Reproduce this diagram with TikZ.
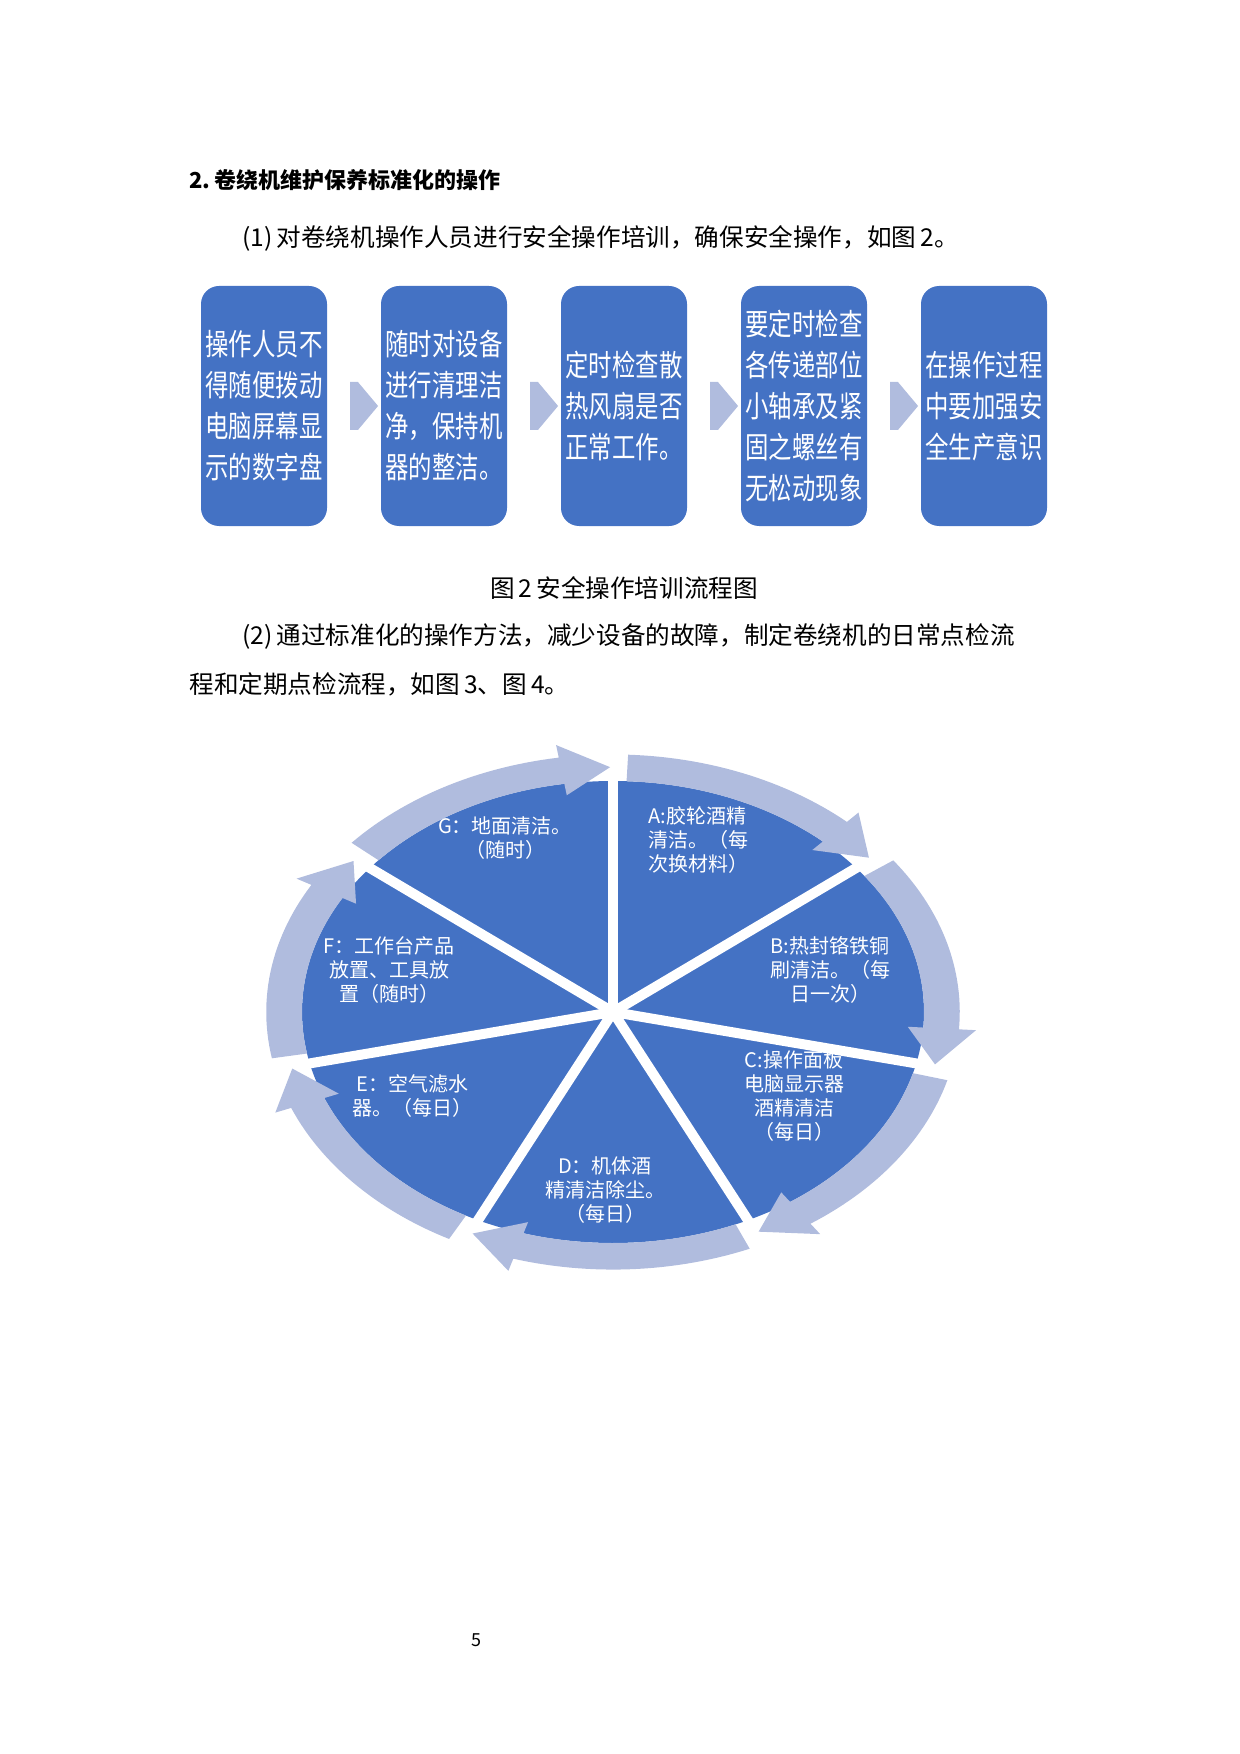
\documentclass[tikz,border=0pt]{standalone}
\usepackage{fontspec}
\setmainfont{Noto Sans CJK SC}
\usetikzlibrary{shapes.arrows,calc}
\definecolor{pieblue}{RGB}{68,114,196}
\definecolor{ringblue}{RGB}{176,188,222}
\tikzset{
  box/.style={fill=pieblue, rounded corners=9pt, minimum width=63pt, minimum height=120pt, inner sep=0pt},
  boxtxt/.style={text=white, align=center, font=\fontsize{15}{20.5}\selectfont, xscale=0.78, transform shape},
  chev/.style={single arrow, fill=ringblue, draw=none, minimum width=24pt, minimum height=14pt, single arrow head extend=0pt, inner sep=0pt, single arrow tip angle=100},
  pie/.style={text=white, font=\fontsize{10}{12}\selectfont, inner sep=0pt},
  body/.style={anchor=west, font=\fontsize{12.3}{14}\selectfont, inner sep=0pt}
}
\begin{document}
\begin{tikzpicture}[x=0.5pt,y=-0.5pt]
\useasboundingbox (0,0) rectangle (1240,1754);
\node[anchor=west, font=\fontsize{11}{13}\selectfont\bfseries, inner sep=0pt] (head) at (189,180) {2.\,卷绕机维护保养标准化的操作};
\node[body] (p1) at (242,238) {(1)\,对卷绕机操作人员进行安全操作培训，确保安全操作，如图\,2。};
\foreach \i/\x/\t in {1/264/操作人员不\\得随便拨动\\电脑屏幕显\\示的数字盘, 2/444/随时对设备\\进行清理洁\\净，保持机\\器的整洁。, 3/624/定时检查散\\热风扇是否\\正常工作。, 4/804/要定时检查\\各传递部位\\小轴承及紧\\固之螺丝有\\无松动现象, 5/984/在操作过程\\中要加强安\\全生产意识}{
  \node[box] (b\i) at (\x,406) {};
  \node[boxtxt] (t\i) at (b\i) {\t};
}
\foreach \a/\b in {1/2,2/3,3/4,4/5}{
  \node[chev] (c\a) at ($(b\a.east)!0.5!(b\b.west)$) {};
}
\node[font=\fontsize{12.3}{14}\selectfont, inner sep=0pt] (cap) at (624,588) {图\,2\,安全操作培训流程图};
\node[body] (p2) at (242,636) {(2)\,通过标准化的操作方法，减少设备的故障，制定卷绕机的日常点检流};
\node[body] (p3) at (189,684) {程和定期点检流程，如图\,3、图\,4。};
% pie
\begin{scope}[shift={(613,1012)}, x={(155.5pt,0pt)}, y={(0pt,115.5pt)}]
  \coordinate (ctr) at (0,0);
  \fill[pieblue] (0,0) ellipse [x radius=1, y radius=1];
  \foreach \k in {0,...,6}{
    \pgfmathsetmacro{\ang}{90-51.4286*\k}
    \draw[white, line width=5pt] (ctr) -- (\ang:1.03);
    \pgfmathsetmacro{\sA}{\ang-2.5}
    \pgfmathsetmacro{\eA}{\ang-51.4286+9}
    \pgfmathsetmacro{\tA}{\ang-51.4286+0.5}
    \fill[ringblue] plot[domain=\sA:\eA, samples=30] (\x:1.0) -- (\eA:0.95) -- (\tA:1.06) -- (\eA:1.17)
       -- plot[domain=\eA:\sA, samples=30] (\x:1.115) -- cycle;
  }
\end{scope}
\node[pie, align=center] (g) at (505,838) {G：地面清洁。\\（随时）};
\node[pie, align=left, anchor=north west] (a) at (648,806) {A:胶轮酒精\\清洁。（每\\次换材料）};
\node[pie, align=center] (b) at (830,970) {B:热封铬铁铜\\刷清洁。（每\\日一次）};
\node[pie, align=center] (c) at (794,1096) {C:操作面板\\电脑显示器\\酒精清洁\\（每日）};
\node[pie, align=center] (d) at (605,1190) {D：机体酒\\精清洁除尘。\\（每日）};
\node[pie, align=left, anchor=west] (e) at (352,1096) {\ E：空气滤水\\器。（每日）};
\node[pie, align=center] (f) at (389,970) {F：工作台产品\\放置、工具放\\置（随时）};
\node[font=\fontsize{9}{10}\selectfont, inner sep=0pt] (pg) at (476,1640) {5};
\end{tikzpicture}
\end{document}
